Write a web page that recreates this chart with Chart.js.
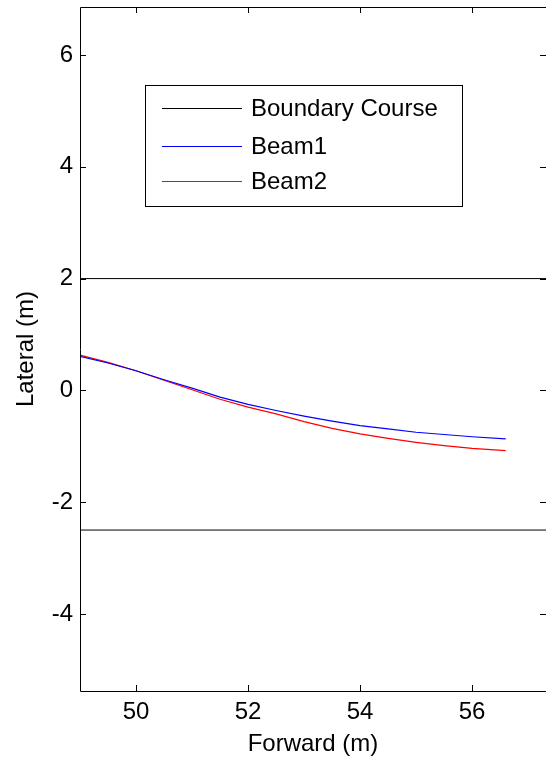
<!DOCTYPE html>
<html>
<head>
<meta charset="utf-8">
<title>Beam lateral offset</title>
<script src="https://cdn.jsdelivr.net/npm/chart.js@4.4.1/dist/chart.umd.min.js"></script>
<style>
	html, body { margin: 0; padding: 0; background: #ffffff; }
	#chart-wrap { width: 546px; height: 763px; }
</style>
</head>
<body>
<div id="chart-wrap"><canvas id="lateral-chart" width="546" height="763"></canvas></div>
<script>
// Forward positions (m) and lateral offsets (m) of both beams
var forwardPos   = [49.0, 49.5, 50.0, 50.5, 51.0, 51.5, 52.0, 52.5, 53.0, 53.5, 54.0, 54.5, 55.0, 55.5, 56.0, 56.6];
var beam1Lateral = [0.61, 0.49, 0.35, 0.19, 0.04, -0.12, -0.25, -0.36, -0.46, -0.55, -0.63, -0.69, -0.75, -0.79, -0.83, -0.87];
var beam2Lateral = [0.63, 0.50, 0.35, 0.18, 0.01, -0.16, -0.30, -0.42, -0.56, -0.68, -0.78, -0.86, -0.93, -0.99, -1.04, -1.08];

// Course boundaries (lateral, m)
var boundaryLateral = [2, -2.5];

// Axis limits and ticks
var forwardRange  = [49.0, 57.32];
var lateralRange  = [-5.38, 6.86];
var forwardTicks  = [50, 52, 54, 56];
var lateralTicks  = [-4, -2, 0, 2, 4, 6];

var seriesNames  = ['Boundary Course', 'Beam1', 'Beam2'];
var seriesColors = ['#000000', '#0000ff', '#ff0000'];

(function () {
	'use strict';

	var FONT = '"Liberation Sans", Arial, Helvetica, sans-serif';

	function toPoints(xs, ys) {
		var pts = [];
		for (var i = 0; i < xs.length; i++) {
			pts.push({ x: xs[i], y: ys[i] });
		}
		return pts;
	}

	// Boundary lines run across the whole forward range
	var datasets = boundaryLateral.map(function (y) {
		return {
			label: seriesNames[0],
			data: [{ x: forwardRange[0], y: y }, { x: forwardRange[1], y: y }],
			borderColor: seriesColors[0],
			borderWidth: 1,
			pointRadius: 0
		};
	});

	datasets.push({
		label: seriesNames[1],
		data: toPoints(forwardPos, beam1Lateral),
		borderColor: seriesColors[1],
		borderWidth: 1.2,
		pointRadius: 0
	});
	datasets.push({
		label: seriesNames[2],
		data: toPoints(forwardPos, beam2Lateral),
		borderColor: seriesColors[2],
		borderWidth: 1.2,
		pointRadius: 0
	});

	// Box round the plot with inward ticks on all four sides
	var axisBox = {
		id: 'axisBox',
		afterDatasetsDraw: function (chart) {
			var ctx = chart.ctx;
			var area = chart.chartArea;
			var xs = chart.scales.x;
			var ys = chart.scales.y;
			var len = 6;

			ctx.save();
			ctx.strokeStyle = '#000000';
			ctx.lineWidth = 1;
			ctx.beginPath();
			ctx.rect(Math.round(area.left) + 0.5, Math.round(area.top) + 0.5,
				Math.round(area.right - area.left), Math.round(area.bottom - area.top));
			ctx.stroke();

			ctx.beginPath();
			forwardTicks.forEach(function (v) {
				var px = Math.round(xs.getPixelForValue(v)) + 0.5;
				ctx.moveTo(px, area.bottom);
				ctx.lineTo(px, area.bottom - len);
				ctx.moveTo(px, area.top);
				ctx.lineTo(px, area.top + len);
			});
			lateralTicks.forEach(function (v) {
				var py = Math.round(ys.getPixelForValue(v)) + 0.5;
				ctx.moveTo(area.left, py);
				ctx.lineTo(area.left + len, py);
				ctx.moveTo(area.right, py);
				ctx.lineTo(area.right - len, py);
			});
			ctx.stroke();
			ctx.restore();
		},
		afterDraw: function (chart) {
			// Legend box in the upper part of the plot
			var ctx = chart.ctx;
			var box = { x: 145.5, y: 85.5, w: 317, h: 121 };
			var rows = [108, 146, 181];

			ctx.save();
			ctx.fillStyle = '#ffffff';
			ctx.fillRect(box.x, box.y, box.w, box.h);
			ctx.strokeStyle = '#000000';
			ctx.lineWidth = 1;
			ctx.strokeRect(box.x, box.y, box.w, box.h);

			ctx.font = '24px ' + FONT;
			ctx.textBaseline = 'middle';
			ctx.textAlign = 'left';
			for (var i = 0; i < seriesNames.length; i++) {
				ctx.strokeStyle = seriesColors[i];
				ctx.lineWidth = 1;
				ctx.beginPath();
				ctx.moveTo(162, rows[i] + 0.5);
				ctx.lineTo(242, rows[i] + 0.5);
				ctx.stroke();
				ctx.fillStyle = '#000000';
				ctx.fillText(seriesNames[i], 251, rows[i] + 1);
			}
			ctx.restore();
		}
	};

	var config = {
		type: 'line',
		data: { datasets: datasets },
		options: {
			responsive: false,
			animation: false,
			layout: { padding: { top: 7, right: 0, left: 0, bottom: 0 } },
			plugins: {
				legend: { display: false },
				tooltip: { enabled: false }
			},
			scales: {
				x: {
					type: 'linear',
					min: forwardRange[0],
					max: forwardRange[1],
					afterBuildTicks: function (scale) {
						scale.ticks = forwardTicks.map(function (v) { return { value: v }; });
					},
					afterFit: function (scale) {
						scale.height = 72;
						scale.paddingLeft = 0;
						scale.paddingRight = 0;
					},
					grid: { display: false, drawTicks: false },
					border: { display: false },
					ticks: {
						color: '#000000',
						padding: 7,
						maxRotation: 0,
						font: { family: FONT, size: 24 }
					},
					title: {
						display: true,
						text: 'Forward (m)',
						color: '#000000',
						padding: { top: 0, bottom: 4 },
						font: { family: FONT, size: 24 }
					}
				},
				y: {
					type: 'linear',
					min: lateralRange[0],
					max: lateralRange[1],
					afterBuildTicks: function (scale) {
						scale.ticks = lateralTicks.map(function (v) { return { value: v }; });
					},
					afterFit: function (scale) {
						scale.width = 80;
						scale.paddingTop = 0;
						scale.paddingBottom = 0;
					},
					grid: { display: false, drawTicks: false },
					border: { display: false },
					ticks: {
						color: '#000000',
						padding: 7,
						font: { family: FONT, size: 24 }
					},
					title: {
						display: true,
						text: 'Lateral (m)',
						color: '#000000',
						padding: { top: 12, bottom: 0 },
						font: { family: FONT, size: 24 }
					}
				}
			}
		},
		plugins: [axisBox]
	};

	new Chart(document.getElementById('lateral-chart'), config);
})();
</script>
</body>
</html>
